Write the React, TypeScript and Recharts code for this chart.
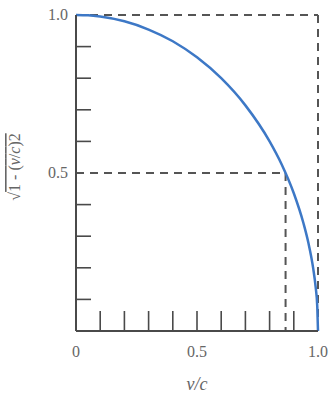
import React from "react";
import { LineChart, Line, XAxis, YAxis, ReferenceLine } from "recharts";

const curveX = [0, 0.05, 0.1, 0.2, 0.3, 0.4, 0.5, 0.6, 0.7, 0.8, 0.85, 0.9, 0.94, 0.96, 0.98, 0.99, 0.997, 1.0];
const curveY = [1.0, 0.999, 0.995, 0.98, 0.954, 0.917, 0.866, 0.8, 0.714, 0.6, 0.527, 0.436, 0.341, 0.28, 0.199, 0.141, 0.077, 0.0];
const xTicks = [0, 0.1, 0.2, 0.3, 0.4, 0.5, 0.6, 0.7, 0.8, 0.9, 1.0];
const yTicks = [0, 0.1, 0.2, 0.3, 0.4, 0.5, 0.6, 0.7, 0.8, 0.9, 1.0];
const xLabels: Record<string, string> = { "0": "0", "0.5": "0.5", "1": "1.0" };
const yLabels: Record<string, string> = { "0.5": "0.5", "1": "1.0" };
const markX = 0.866;
const markY = 0.5;

const data = curveX.map((x, i) => ({ x, y: curveY[i] }));

const AXIS = "#4a4a4a";
const TEXT = "#666";
const DASH = "#555";
const FONT = "'Liberation Serif', serif";

const XTick = (props: any) => {
  const { x, y, payload } = props;
  const v = payload.value;
  const key = String(v);
  const hasLine = v > 0.05 && v < 0.95;
  return (
    <g>
      {hasLine && <line x1={x} x2={x} y1={y} y2={y - 20} stroke={AXIS} strokeWidth={1.6} />}
      {xLabels[key] && (
        <text x={x} y={y + 26} textAnchor="middle" fill={TEXT} style={{ fontFamily: FONT, fontSize: 16 }}>
          {xLabels[key]}
        </text>
      )}
    </g>
  );
};

const YTick = (props: any) => {
  const { x, y, payload } = props;
  const v = payload.value;
  const key = String(v);
  const hasLine = v > 0.05 && v < 0.95 && Math.abs(v - 0.5) > 0.01;
  return (
    <g>
      {hasLine && <line x1={x} x2={x + 15} y1={y} y2={y} stroke={AXIS} strokeWidth={1.6} />}
      {yLabels[key] && (
        <text x={x - 8} y={y + 5} textAnchor="end" fill={TEXT} style={{ fontFamily: FONT, fontSize: 16 }}>
          {yLabels[key]}
        </text>
      )}
    </g>
  );
};

export default function App() {
  return (
    <div style={{ position: "absolute", left: 0, top: 0, background: "#fff" }}>
      <LineChart width={329} height={407} data={data} margin={{ top: 15, right: 11, left: 0, bottom: 0 }}>
        <XAxis
          type="number"
          dataKey="x"
          domain={[0, 1]}
          ticks={xTicks}
          height={76}
          tickLine={false}
          tickSize={0}
          tickMargin={0}
          axisLine={{ stroke: AXIS, strokeWidth: 2 }}
          tick={<XTick />}
          interval={0}
        />
        <YAxis
          type="number"
          domain={[0, 1]}
          ticks={yTicks}
          width={76}
          tickLine={false}
          tickSize={0}
          tickMargin={0}
          axisLine={{ stroke: AXIS, strokeWidth: 2 }}
          tick={<YTick />}
          interval={0}
        />
        <ReferenceLine segment={[{ x: 0, y: 1 }, { x: 1, y: 1 }]} stroke={DASH} strokeWidth={2} strokeDasharray="8 6" />
        <ReferenceLine segment={[{ x: 1, y: 1 }, { x: 1, y: 0 }]} stroke={DASH} strokeWidth={2} strokeDasharray="8 6" />
        <ReferenceLine segment={[{ x: 0, y: markY }, { x: markX, y: markY }]} stroke={DASH} strokeWidth={2} strokeDasharray="8 6" />
        <ReferenceLine segment={[{ x: markX, y: markY }, { x: markX, y: 0 }]} stroke={DASH} strokeWidth={2} strokeDasharray="8 6" />
        <Line type="monotone" dataKey="y" stroke="#3d78c6" strokeWidth={2.5} dot={false} isAnimationActive={false} />
        <text x={197} y={390} textAnchor="middle" fill={TEXT} style={{ fontFamily: FONT, fontSize: 18, fontStyle: "italic" }}>
          v/c
        </text>
        <text
          x={20}
          y={167}
          transform="rotate(-90 20 167)"
          textAnchor="middle"
          fill={TEXT}
          style={{ fontFamily: FONT, fontSize: 16 }}
        >
          √
          <tspan style={{ textDecoration: "overline" }}>
            1 - (<tspan style={{ fontStyle: "italic" }}>v</tspan>/<tspan style={{ fontStyle: "italic" }}>c</tspan>)2
          </tspan>
        </text>
      </LineChart>
    </div>
  );
}
